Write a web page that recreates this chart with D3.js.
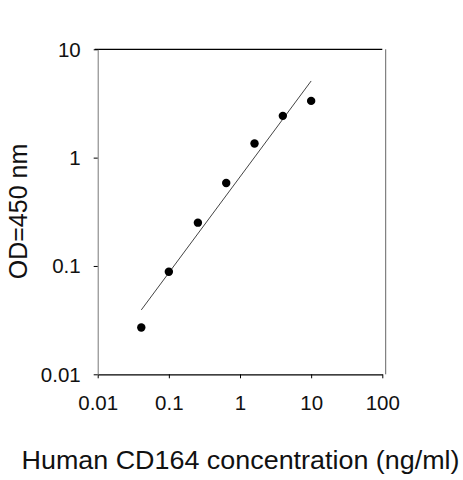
<!DOCTYPE html>
<html>
<head>
<meta charset="utf-8">
<script src="https://cdn.jsdelivr.net/npm/d3@7"></script>
<style>
  body { margin: 0; background: #fff; }
  svg { display: block; font-family: "Liberation Sans", Arial, sans-serif; }
</style>
</head>
<body>
<svg id="chart" width="463" height="480"></svg>
<script>
// standard curve points
const conc = [0.041, 0.1, 0.256, 0.64, 1.6, 4, 10];
const od = [0.027, 0.0885, 0.251, 0.583, 1.35, 2.43, 3.34];
// fitted line end points
const fitX = [0.041, 10];
const fitY = [0.0393, 5.1];
const xTicks = [0.01, 0.1, 1, 10, 100];
const yTicks = [0.01, 0.1, 1, 10];

const width = 463, height = 480;
const plotL = 97.7, plotR = 382.3, plotT = 49.3, plotB = 374.3;

const svg = d3.select("#chart");

const x = d3.scaleLog().domain([0.01, 100]).range([plotL, plotR]);
const y = d3.scaleLog().domain([0.01, 10]).range([plotB, plotT]);

// frame: top black, right grey
svg.append("line")
    .attr("x1", plotL - 3).attr("x2", plotR)
    .attr("y1", plotT).attr("y2", plotT)
    .attr("stroke", "#000").attr("stroke-width", 1.3);
svg.append("line")
    .attr("x1", plotR + 3.4).attr("x2", plotR + 3.4)
    .attr("y1", plotT).attr("y2", plotB)
    .attr("stroke", "#666").attr("stroke-width", 1);

// x axis
const xAxis = svg.append("g")
    .attr("transform", `translate(0,${plotB})`)
    .call(d3.axisBottom(x).tickValues(xTicks).tickSize(4).tickSizeOuter(0)
        .tickFormat(d => String(d)));
xAxis.select(".domain").attr("stroke", "#000").attr("stroke-width", 1.3);
xAxis.selectAll(".tick line").attr("stroke", "#000");
xAxis.selectAll(".tick text")
    .attr("font-size", 20.5).attr("fill", "#111")
    .attr("y", 0).attr("dy", 36).attr("font-family", "Liberation Sans, Arial, sans-serif");

// y axis
const yAxis = svg.append("g")
    .attr("transform", `translate(${plotL},0)`)
    .call(d3.axisLeft(y).tickValues(yTicks).tickSize(4).tickSizeOuter(0)
        .tickFormat(d => String(d)));
yAxis.select(".domain").attr("stroke", "#777").attr("stroke-width", 1);
yAxis.selectAll(".tick line").attr("stroke", "#000");
yAxis.selectAll(".tick text")
    .attr("font-size", 20.5).attr("fill", "#111")
    .attr("x", -17).attr("dy", "0.34em").attr("font-family", "Liberation Sans, Arial, sans-serif");

// fit line
svg.append("path")
    .datum(fitX.map((v, i) => [v, fitY[i]]))
    .attr("fill", "none")
    .attr("stroke", "#444")
    .attr("stroke-width", 1)
    .attr("d", d3.line().x(d => x(d[0])).y(d => y(d[1])));

// points
svg.append("g")
    .selectAll("circle")
    .data(conc.map((v, i) => ({ c: v, od: od[i] })))
    .join("circle")
    .attr("cx", d => x(d.c))
    .attr("cy", d => y(d.od))
    .attr("r", 4.2)
    .attr("fill", "#000");

// axis titles
svg.append("text")
    .attr("x", 21.5).attr("y", 468.5)
    .attr("font-size", 26)
    .attr("textLength", 438)
    .attr("lengthAdjust", "spacingAndGlyphs")
    .attr("fill", "#111")
    .text("Human CD164 concentration (ng/ml)");

svg.append("text")
    .attr("transform", "translate(27,211.5) rotate(-90)")
    .attr("text-anchor", "middle")
    .attr("font-size", 25)
    .attr("fill", "#111")
    .text("OD=450 nm");
</script>
</body>
</html>
